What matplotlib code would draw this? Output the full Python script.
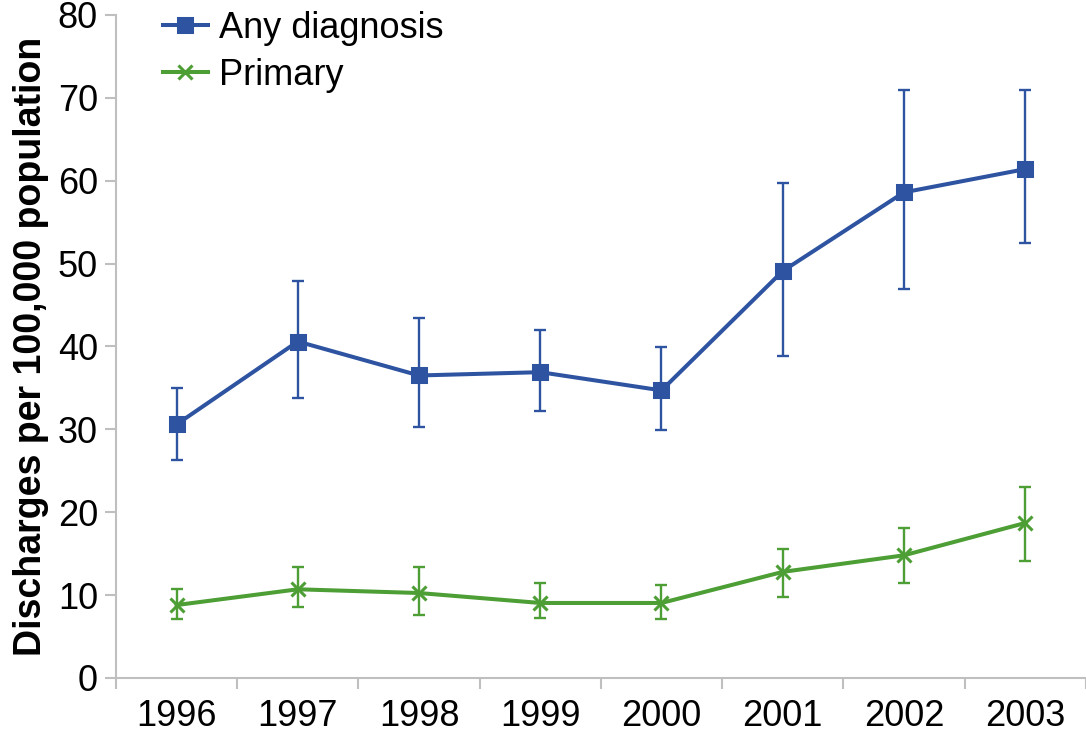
import numpy as np
import matplotlib.pyplot as plt

plt.rcParams['font.family'] = ['Liberation Sans', 'DejaVu Sans']

years = ['1996', '1997', '1998', '1999', '2000', '2001', '2002', '2003']

any_dx = [30.6, 40.6, 36.5, 36.9, 34.7, 49.1, 58.6, 61.4]
any_lo = [26.3, 33.8, 30.3, 32.2, 29.9, 38.8, 46.9, 52.5]
any_hi = [35.0, 47.9, 43.4, 42.0, 39.9, 59.7, 70.9, 70.9]

primary = [8.8, 10.7, 10.25, 9.05, 9.05, 12.8, 14.8, 18.7]
prim_lo = [7.1, 8.6, 7.6, 7.2, 7.1, 9.8, 11.5, 14.1]
prim_hi = [10.7, 13.4, 13.4, 11.5, 11.2, 15.6, 18.1, 23.0]

blue = '#2E54A1'
green = '#4C9E35'
grey = '#BFBFBF'

x = np.arange(len(years))

fig = plt.figure(figsize=(10.86, 7.35), dpi=100)
ax = fig.add_axes([0.1068, 0.0776, 0.893, 0.902])

def series(vals, lo, hi, color, marker, ms, label):
    vals = np.array(vals)
    err = [vals - np.array(lo), np.array(hi) - vals]
    ax.errorbar(x, vals, yerr=err, fmt='none', ecolor=color,
                elinewidth=1.7, capsize=4, capthick=1.7, zorder=2)
    ax.plot(x, vals, color=color, lw=2.9, marker=marker, ms=ms,
            mew=2.2, label=label, zorder=3)

series(any_dx, any_lo, any_hi, blue, 's', 9.5, 'Any diagnosis')
series(primary, prim_lo, prim_hi, green, 'x', 10, 'Primary')

ax.set_xlim(-0.5, len(years) - 0.5)
ax.set_ylim(0, 80)
ax.set_yticks(np.arange(0, 81, 10))

# category labels centred, tick marks on the boundaries
ax.set_xticks(x)
ax.set_xticklabels(years)
ax.set_xticks(np.arange(-0.5, len(years), 1), minor=True)
ax.tick_params(axis='x', which='major', length=0, pad=15, labelsize=26)
ax.tick_params(axis='x', which='minor', length=8, width=1.5, color=grey)
ax.tick_params(axis='y', length=8, width=1.5, color=grey, labelsize=26, pad=5)

for s in ['top', 'right']:
    ax.spines[s].set_visible(False)
for s in ['left', 'bottom']:
    ax.spines[s].set_color(grey)
    ax.spines[s].set_linewidth(1.5)

ax.set_ylabel('Discharges per 100,000 population', fontsize=27,
              fontweight='bold', labelpad=6)

ax.legend(loc='upper left', bbox_to_anchor=(0.048, 1.006), frameon=False,
          fontsize=26, handlelength=1.25, handletextpad=0.3, labelspacing=0.33,
          borderaxespad=0, borderpad=0)

fig.savefig('out.png', dpi=100)
